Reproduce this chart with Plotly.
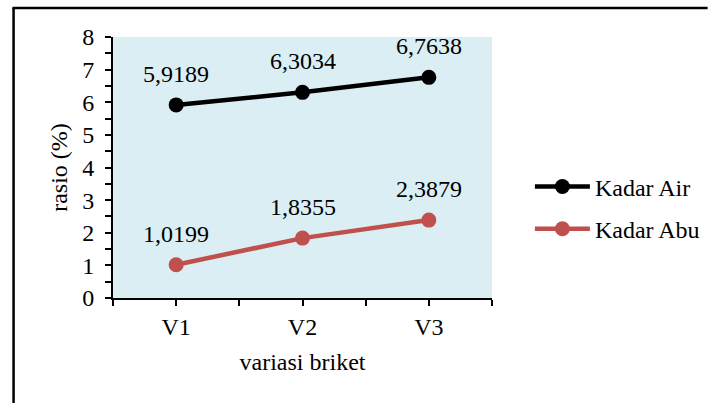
import plotly.graph_objects as go

categories = ["V1", "V2", "V3"]
kadar_air = [5.9189, 6.3034, 6.7638]
kadar_abu = [1.0199, 1.8355, 2.3879]
series_names = ["Kadar Air", "Kadar Abu"]
y_ticks = [0, 1, 2, 3, 4, 5, 6, 7, 8]

FONT = "Times New Roman"
FS = 24
x_pos = list(range(len(categories)))

def fmt(v):
    return f"{v:.4f}".replace(".", ",")

fig = go.Figure()
colors = ["#000000", "#C0504D"]
for name, vals, col in zip(series_names, [kadar_air, kadar_abu], colors):
    fig.add_trace(go.Scatter(
        x=x_pos, y=vals, name=name, mode="lines+markers",
        line=dict(color=col, width=4.5),
        marker=dict(color=col, size=15),
        legendgroup=name,
    ))
    for xi, v in zip(x_pos, vals):
        fig.add_annotation(x=xi, y=v, text=fmt(v), showarrow=False,
                           yshift=31, font=dict(family=FONT, size=FS, color="black"))

xt_vals = []
xt_text = []
for i in range(len(categories)):
    xt_vals += [i - 0.5, i]
    xt_text += ["", categories[i]]
xt_vals.append(len(categories) - 0.5)
xt_text.append("")

fig.update_layout(
    width=717, height=403,
    margin=dict(l=113, r=219, t=37, b=105),
    paper_bgcolor="white", plot_bgcolor="#DAEEF3",
    font=dict(family=FONT, size=FS, color="black"),
    showlegend=True,
    legend=dict(x=1.1, y=0.345, xanchor="left", yanchor="middle",
                font=dict(family=FONT, size=FS, color="black"),
                itemwidth=55, tracegroupgap=8, bgcolor="rgba(0,0,0,0)"),
    xaxis=dict(range=[-0.5, len(categories) - 0.5], tickvals=xt_vals, ticktext=xt_text,
               ticks="outside", ticklen=6, tickwidth=2, tickcolor="black",
               showline=True, linecolor="black", linewidth=2, showgrid=False, zeroline=False,
               title=dict(text="variasi briket", standoff=14, font=dict(family=FONT, size=FS)),
               tickfont=dict(family=FONT, size=FS)),
    yaxis=dict(range=[0, 8], tickvals=y_ticks, ticks="outside", ticklen=6, tickwidth=2,
               tickcolor="black", showline=True, linecolor="black", linewidth=2,
               showgrid=False, zeroline=False, ticklabelstandoff=6,
               minor=dict(dtick=0.5, ticks="outside", ticklen=6, tickwidth=2, tickcolor="black", showgrid=False),
               title=dict(text="rasio (%)", standoff=8, font=dict(family=FONT, size=FS)),
               tickfont=dict(family=FONT, size=FS)),
)

# outer chart border: only top and left edges are visible in the frame
bx0 = (12 - 113) / 385
bx1 = (717 - 113) / 385
by0 = (298 - 403) / 261
by1 = 1 + (37 - 8) / 261
fig.add_shape(type="line", xref="paper", yref="paper", x0=bx0 - 0.003, x1=bx1, y0=by1, y1=by1,
              line=dict(color="black", width=2.5), layer="below")
fig.add_shape(type="line", xref="paper", yref="paper", x0=bx0, x1=bx0, y0=by0, y1=by1,
              line=dict(color="black", width=2.5), layer="below")

fig.write_html("out.html", config={"displayModeBar": False},
               post_script="document.body.style.margin='0';document.body.style.overflow='hidden';")
